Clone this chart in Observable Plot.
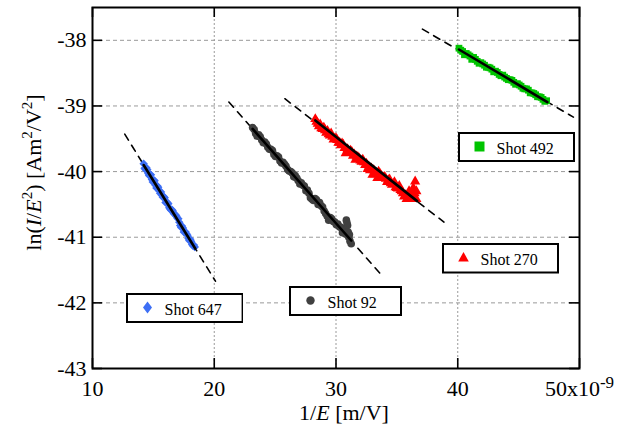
<!DOCTYPE html>
<html><head><meta charset="utf-8">
<script src="https://cdn.jsdelivr.net/npm/d3@7"></script>
<script src="https://cdn.jsdelivr.net/npm/@observablehq/plot@0.6"></script>
<style>
body{margin:0;background:#fff;}
#wrap{position:relative;width:635px;height:428px;font-family:"Liberation Serif","Times New Roman",serif;}
#wrap svg text{font-family:"Liberation Serif","Times New Roman",serif;}
.leg{position:absolute;}
</style>
</head><body><div id="wrap"></div>
<script>
// ---- data ----
const shots = ["Shot 647", "Shot 92", "Shot 270", "Shot 492"];
const shotColors = ["#3d6ff5", "#404040", "#ff0000", "#00c400"];
const shotSymbols = ["diamond2", "circle", "triangle", "square"];

const shot647X = [14.2,14.35,14.5,14.65,14.8,14.95,15.1,15.25,15.4,15.55,15.7,15.85,16.0,16.15,16.3,16.45,16.6,16.75,16.9,17.05,17.2,17.35,17.5,17.65,17.8,17.95,18.1,18.25,18.4,
  14.28,14.43,14.58,14.73,14.88,15.03,15.18,15.33,15.48,15.63,15.78,15.93,16.08,16.23,16.38,16.53,16.68,16.83,16.98,17.13,17.28,17.43,17.58,17.73,17.88,18.03,18.18,18.33];
const shot647Y = [-39.88,-39.97,-39.97,-40.06,-40.05,-40.16,-40.14,-40.25,-40.24,-40.33,-40.36,-40.38,-40.47,-40.47,-40.55,-40.59,-40.60,-40.65,-40.68,-40.72,-40.82,-40.83,-40.92,-40.92,-40.97,-41.05,-41.06,-41.13,-41.15,
  -39.95,-39.94,-40.03,-40.04,-40.12,-40.13,-40.21,-40.22,-40.29,-40.31,-40.39,-40.40,-40.48,-40.49,-40.57,-40.58,-40.64,-40.66,-40.71,-40.77,-40.85,-40.86,-40.92,-40.95,-41.02,-41.03,-41.11,-41.12];

const shot92X = [23.15,23.4,23.65,23.9,24.15,24.4,24.65,24.9,25.15,25.4,25.65,25.9,26.15,26.4,26.65,26.9,27.15,27.4,27.65,27.9,28.15,28.4,28.65,28.9,29.15,29.4,29.65,29.9,30.15,30.4,30.65,30.85,30.95,31.0,31.05,31.15,31.25,
  23.28,23.53,23.78,24.03,24.28,24.53,24.78,25.03,25.28,25.53,25.78,26.03,26.28,26.53,26.78,27.03,27.28,27.53,27.78,28.03,28.28,28.53,28.78,29.03,29.28,29.53,29.78,30.03,30.28,30.53,30.78,30.9,31.1];
const shot92Y = [-39.33,-39.42,-39.44,-39.52,-39.55,-39.63,-39.66,-39.74,-39.76,-39.84,-39.86,-39.92,-39.99,-40.02,-40.06,-40.14,-40.17,-40.22,-40.28,-40.40,-40.44,-40.43,-40.47,-40.54,-40.64,-40.74,-40.72,-40.77,-40.80,-40.85,-40.90,-40.74,-40.82,-40.92,-41.00,-41.06,-41.10,
  -39.36,-39.46,-39.47,-39.56,-39.58,-39.66,-39.68,-39.77,-39.78,-39.87,-39.89,-39.97,-40.00,-40.08,-40.10,-40.19,-40.21,-40.29,-40.33,-40.42,-40.41,-40.50,-40.52,-40.60,-40.68,-40.70,-40.76,-40.81,-40.84,-40.93,-40.95,-40.78,-40.96];

const shot270X = [28.3,28.5,28.7,28.9,29.1,29.3,29.5,29.7,29.9,30.1,30.3,30.5,30.7,30.8,30.95,31.2,31.4,31.6,31.8,32.0,32.2,32.4,32.6,32.8,33.0,33.2,33.4,33.6,33.8,34.0,34.2,34.4,34.6,34.8,35.0,35.2,35.4,35.6,35.8,36.0,36.2,36.35,36.5,36.6,36.6,
  28.4,28.6,28.8,29.0,29.2,29.4,29.6,29.8,30.0,30.2,30.4,30.6,31.1,31.3,31.5,31.7,31.9,32.1,32.3,32.5,32.7,32.9,33.1,33.3,33.5,33.7,33.9,34.1,34.3,34.5,34.7,34.9,35.1,35.3,35.5,35.7,35.9,36.1,36.3,36.45];
const shot270Y = [-39.20,-39.27,-39.28,-39.35,-39.37,-39.38,-39.45,-39.47,-39.50,-39.52,-39.56,-39.57,-39.64,-39.72,-39.66,-39.68,-39.76,-39.82,-39.78,-39.83,-39.82,-39.90,-39.96,-39.98,-40.05,-40.04,-40.10,-40.03,-40.10,-40.08,-40.16,-40.12,-40.20,-40.16,-40.25,-40.22,-40.30,-40.38,-40.42,-40.30,-40.42,-40.25,-40.15,-40.30,-40.42,
  -39.24,-39.31,-39.34,-39.33,-39.41,-39.43,-39.42,-39.51,-39.49,-39.56,-39.60,-39.59,-39.71,-39.70,-39.74,-39.77,-39.80,-39.85,-39.86,-39.88,-39.93,-39.95,-39.98,-40.02,-40.00,-40.06,-40.09,-40.11,-40.13,-40.18,-40.19,-40.24,-40.26,-40.28,-40.33,-40.36,-40.35,-40.40,-40.36,-40.33];

const shot492X = [40.1,40.4,40.7,41.0,41.3,41.6,41.9,42.2,42.5,42.8,43.1,43.4,43.7,44.0,44.3,44.6,44.9,45.2,45.5,45.8,46.1,46.4,46.7,47.0,47.3,
  40.25,40.55,40.85,41.15,41.45,41.75,42.05,42.35,42.65,42.95,43.25,43.55,43.85,44.15,44.45,44.75,45.05,45.35,45.65,45.95,46.25,46.55,46.85,47.15];
const shot492Y = [-38.12,-38.17,-38.20,-38.24,-38.26,-38.32,-38.34,-38.38,-38.41,-38.44,-38.47,-38.52,-38.53,-38.58,-38.60,-38.64,-38.66,-38.70,-38.74,-38.76,-38.80,-38.83,-38.86,-38.90,-38.92,
  -38.15,-38.22,-38.22,-38.29,-38.29,-38.35,-38.36,-38.41,-38.42,-38.48,-38.49,-38.54,-38.56,-38.60,-38.61,-38.67,-38.68,-38.73,-38.74,-38.80,-38.81,-38.86,-38.87,-38.93];

// fitted lines (solid) and their extensions (dashed): [x1, y1, x2, y2]
const fitLines  = [[14.2,-39.90,18.45,-41.175],[23.15,-39.35,31.25,-41.05],[28.3,-39.22,36.67,-40.45],[40.1,-38.14,47.36,-38.94]];
const dashLines = [[12.65,-39.43,20.1,-41.67],[21.2,-38.94,33.66,-41.56],[25.8,-38.89,38.87,-40.77],[37.1,-37.83,49.5,-39.17]];

const xTicks = [10, 20, 30, 40, 50];
const yTicks = [-43, -42, -41, -40, -39, -38];
const xDomain = [10, 50];
const yDomain = [-43, -37.5];

// ---- build tables ----
const seriesX = [shot647X, shot92X, shot270X, shot492X];
const seriesY = [shot647Y, shot92Y, shot270Y, shot492Y];
const points = [];
shots.forEach((s, i) => seriesX[i].forEach((x, j) => points.push({shot: s, x, y: seriesY[i][j]})));
const toRows = arr => arr.flatMap((l, i) => [{shot: shots[i], x: l[0], y: l[1]}, {shot: shots[i], x: l[2], y: l[3]}]);
const fitRows = toRows(fitLines);
const dashRows = toRows(dashLines);

// ---- layout ----
const W = 635, H = 428, mL = 92, mR = 56, mT = 7, mB = 60;
const iW = W - mL - mR, iH = H - mT - mB, tickLen = 10;
const serif = "'Liberation Serif', 'Times New Roman', serif";

const plot = Plot.plot({
  width: W, height: H,
  marginLeft: mL, marginRight: mR, marginTop: mT, marginBottom: mB,
  style: {fontFamily: serif, fontSize: "22px", background: "white", color: "black"},
  x: {domain: xDomain, label: null},
  y: {domain: yDomain, label: null},
  color: {domain: shots, range: shotColors},
  symbol: {domain: shots, range: shotSymbols},
  marks: [
    Plot.gridX(xTicks.filter(d => d > xDomain[0] && d < xDomain[1]), {stroke: "#9a9a9a", strokeOpacity: 1, strokeWidth: 1, strokeDasharray: "2,2"}),
    Plot.gridY(yTicks.filter(d => d > yDomain[0]), {stroke: "#9a9a9a", strokeOpacity: 1, strokeWidth: 1, strokeDasharray: "4,3"}),
    Plot.line(dashRows, {x: "x", y: "y", z: "shot", stroke: "black", strokeWidth: 1.6, strokeDasharray: "7,6"}),
    Plot.dot(points, {x: "x", y: "y", fill: "shot", symbol: "shot", r: 3.8}),
    Plot.line(fitRows, {x: "x", y: "y", z: "shot", stroke: "black", strokeWidth: 2.6}),
    Plot.tickY(yTicks, {y: d => d, insetRight: iW - tickLen, stroke: "black", strokeWidth: 1.6}),
    Plot.tickY(yTicks, {y: d => d, insetLeft: iW - tickLen, stroke: "black", strokeWidth: 1.6}),
    Plot.tickX(xTicks, {x: d => d, insetTop: iH - tickLen, stroke: "black", strokeWidth: 1.6}),
    Plot.tickX(xTicks, {x: d => d, insetBottom: iH - tickLen, stroke: "black", strokeWidth: 1.6}),
    Plot.axisX({ticks: xTicks, tickSize: 0, tickPadding: 12, tickFormat: d => d === 50 ? "50x10" : String(d), label: null}),
    Plot.axisY({ticks: yTicks, tickSize: 0, tickPadding: 6, tickFormat: d => String(d), label: null}),
    Plot.frame({stroke: "black", strokeWidth: 2})
  ]
});
plot.setAttribute("font-family", serif);
plot.style.fontFamily = serif;

const wrap = document.getElementById("wrap");
wrap.appendChild(plot);
const svg = d3.select(plot);

// superscript exponent on the last x tick
svg.selectAll("text").filter(function () { return this.textContent === "50x10"; })
  .append("tspan").attr("dy", "-0.5em").attr("font-size", "17px").text("-9");

// y-axis title
const yt = svg.append("text").attr("transform", "translate(41,172.5) rotate(-90)")
  .attr("text-anchor", "middle").attr("font-size", "22px").attr("fill", "black");
yt.append("tspan").text("ln(");
yt.append("tspan").attr("font-style", "italic").text("I");
yt.append("tspan").text("/");
yt.append("tspan").attr("font-style", "italic").text("E");
yt.append("tspan").attr("font-size", "15px").attr("dy", "-9").text("2");
yt.append("tspan").attr("dy", "9").text(") [Am");
yt.append("tspan").attr("font-size", "15px").attr("dy", "-9").text("2");
yt.append("tspan").attr("dy", "9").text("/V");
yt.append("tspan").attr("font-size", "15px").attr("dy", "-9").text("2");
yt.append("tspan").attr("dy", "9").text("]");

// x-axis title
const xt = svg.append("text").attr("x", 344).attr("y", 420)
  .attr("text-anchor", "middle").attr("font-size", "22px").attr("fill", "black");
xt.append("tspan").text("1/");
xt.append("tspan").attr("font-style", "italic").text("E");
xt.append("tspan").text(" [m/V]");

// ---- in-plot legend boxes ----
const legendBoxes = [
  {left: 125.7, top: 293.3, w: 117.6, h: 30},
  {left: 289.3, top: 285.7, w: 113, h: 30},
  {left: 442.3, top: 243.3, w: 117, h: 30.5},
  {left: 458.3, top: 132.3, w: 117, h: 30}
];
const legendPaths = [
  "M0,-6L4.5,0L0,6L-4.5,0Z",
  d3.symbol(d3.symbolCircle, Math.PI * 4.2 * 4.2)(),
  "M0,-5.5L5.3,4L-5.3,4Z",
  "M-5,-5H5V5H-5Z"
];
shots.forEach((s, i) => {
  const b = legendBoxes[i];
  const ls = d3.select(wrap).append("svg").attr("class", "leg")
    .style("left", b.left + "px").style("top", b.top + "px")
    .attr("width", b.w).attr("height", b.h);
  ls.append("rect").attr("x", 1).attr("y", 1).attr("width", b.w - 2).attr("height", b.h - 2)
    .attr("fill", "white").attr("stroke", "black").attr("stroke-width", 2);
  ls.append("path").attr("transform", "translate(21.5,14.5)").attr("d", legendPaths[i]).attr("fill", shotColors[i]);
  ls.append("text").attr("x", 38.5).attr("y", 21.5)
    .attr("font-family", serif).attr("font-size", "16px")
    .attr("fill", "black").text(s);
});
</script></body></html>
